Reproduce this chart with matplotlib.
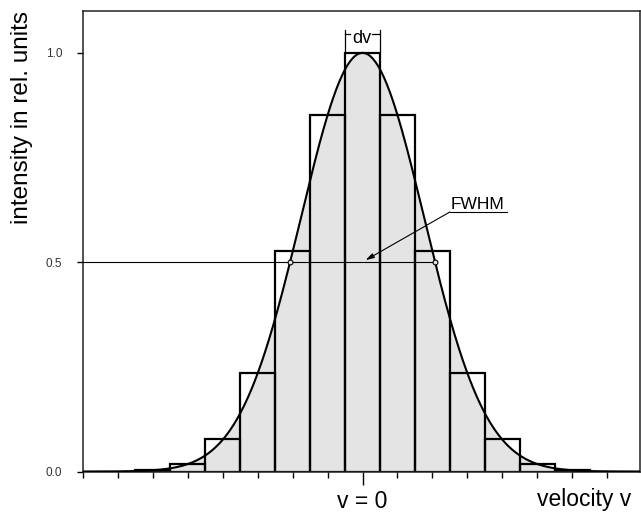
import numpy as np
import matplotlib
matplotlib.use("Agg")
import matplotlib.pyplot as plt

plt.rcParams['font.family'] = ['Liberation Sans', 'DejaVu Sans']

# histogram channels (in units of dv) and their heights
channels = [-6, -5, -4, -3, -2, -1, 0, 1, 2, 3, 4, 5, 6]
heights = [0.003, 0.019, 0.077, 0.236, 0.527, 0.852, 1.0,
           0.852, 0.527, 0.236, 0.077, 0.019, 0.003]

# line profile: gaussian with this full width at half maximum (in dv)
fwhm = 4.15
half_max = 0.5

y_ticks = [0.0, 0.5, 1.0]
y_ticklabels = ["0.0", "0.5", "1.0"]
x_minor = [-8, -7, -6, -5, -4, -3, -2, -1, 1, 2, 3, 4, 5, 6, 7]

W, H = 641, 512
fig = plt.figure(figsize=(W / 100, H / 100), dpi=100)
ax = fig.add_axes([83 / W, 40.5 / H, (640 - 83) / W, (471.5 - 11) / H])

sigma = fwhm / (2 * np.sqrt(2 * np.log(2)))
xs = np.linspace(-8, 8, 800)
ys = np.exp(-xs ** 2 / (2 * sigma ** 2))

ax.fill_between(xs, 0, ys, color="#e4e4e4", lw=0, zorder=1)
ax.bar(channels, heights, width=1.0, fill=False, edgecolor="black",
       linewidth=1.6, zorder=2)
ax.plot(xs, ys, color="black", lw=1.5, zorder=3)

# half maximum line and markers
hw = fwhm / 2
ax.plot([-8, hw], [half_max, half_max], color="black", lw=0.8, zorder=3)
ax.plot([-hw, hw], [half_max, half_max], ls="none", marker="o", ms=3.5,
        mfc="#e4e4e4", mec="black", mew=0.8, zorder=4)

# FWHM label with leader
ax.text(3.3, 0.628, "FWHM", ha="center", va="baseline", fontsize=12.5)
ax.plot([2.5, 4.12], [0.620, 0.620], color="black", lw=0.8)
ax.annotate("", xy=(0.09, 0.505), xytext=(2.5, 0.620),
            arrowprops=dict(arrowstyle="-|>,head_length=0.5,head_width=0.15",
                            color="black", lw=0.8, shrinkA=0, shrinkB=0))

# dv bracket
ax.plot([-0.5, -0.5], [1.003, 1.055], color="black", lw=0.9, clip_on=False)
ax.plot([0.5, 0.5], [1.003, 1.055], color="black", lw=0.9, clip_on=False)
ax.plot([-0.5, -0.36], [1.045, 1.045], color="black", lw=0.9)
ax.plot([0.28, 0.5], [1.045, 1.045], color="black", lw=0.9)
ax.text(-0.03, 1.024, "dv", ha="center", va="baseline", fontsize=13)

ax.set_xlim(-8.0, 7.94)
ax.set_ylim(0, 1.1)

ax.set_yticks(y_ticks)
ax.set_yticklabels(y_ticklabels, fontsize=8.5, color="#333333")
ax.tick_params(axis="y", direction="out", length=4, width=1, pad=11)

ax.set_xticks([0])
ax.set_xticklabels([""])
ax.set_xticks(x_minor, minor=True)
ax.tick_params(axis="x", which="major", direction="out", length=9, width=1)
ax.tick_params(axis="x", which="minor", direction="out", length=4, width=1)

for sp in ax.spines.values():
    sp.set_linewidth(1.1)
    sp.set_color("#222222")

fig.text(362 / W, (H - 508) / H, "v = 0", ha="center", va="baseline",
         fontsize=16.5)
fig.text(584 / W, (H - 506) / H, "velocity v", ha="center", va="baseline",
         fontsize=16.5)
fig.text(22 / W, (H - 118) / H, "intensity in rel. units", ha="center",
         va="center", rotation=90, fontsize=17.5)

fig.savefig("out.png", dpi=100)
